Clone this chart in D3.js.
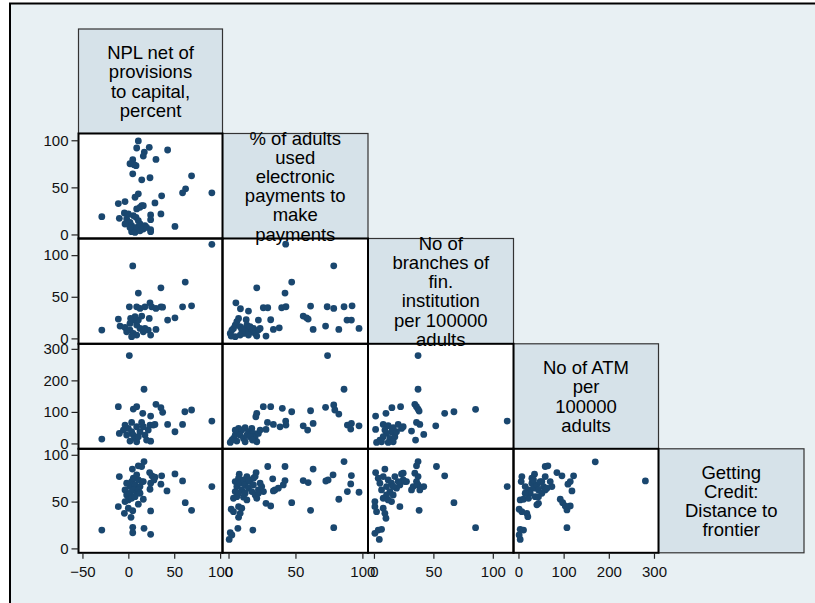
<!DOCTYPE html>
<html><head><meta charset="utf-8">
<script src="https://cdn.jsdelivr.net/npm/d3@7"></script>
<style>html,body{margin:0;padding:0;background:#fff;}svg{display:block;}</style>
</head><body><div id="chart"></div>
<script>
// ---- data ----
const variableLabels = [
  ["NPL net of","provisions","to capital,","percent"],
  ["% of adults","used","electronic","payments to","make","payments"],
  ["No of","branches of","fin.","institution","per 100000","adults"],
  ["No of ATM","per","100000","adults"],
  ["Getting","Credit:","Distance to","frontier"]
];
const xTickValues = [[-50,0,50,100],[0,50,100],[0,50,100],[0,100,200,300]];
const yTickValues = [null,[0,50,100],[0,50,100],[0,100,200,300],[0,50,100]];
const xDomains = [[-54.3,102.6],[-4.5,104.2],[-5,117.4],[-11,310]];
const yDomains = [null,[-4.3,107.2],[-6.5,120],[-17,316],[-4.7,106.4]];

// pairs [x, y] ; panel name = row variable / column variable
const epayVsNpl = [[10.9,99.3],[9.1,91.8],[22.8,92.5],[42.8,89.7],[17.4,87.5],[16.3,83.2],[30.1,79.7],[4.8,79.4],[1.8,75.1],[6.2,74.1],[8.4,73],[4.8,64.4],[14.6,58],[23.6,60.2],[68.9,62.3],[62.4,48.4],[59.1,44.2],[91,44.2],[10.9,43.1],[7.3,39.5],[36.3,41],[-10.9,32.8],[-3.6,34.9],[29,33.5],[14.6,30.6],[9.1,27.1],[12.7,28.8],[16.3,30.6],[-28.9,18.9],[-9.8,17.1],[-4.3,22.8],[35.5,21.8],[24.3,20.7],[24.3,15.7],[50.8,8.5],[24.3,5],[24.3,3],[-1.8,16.4],[1.8,12.8],[3.6,9.3],[5.4,5.7],[3.6,2.9],[9.1,7.5],[12.7,11.1],[16.3,7.5],[18.1,9.3],[0,21.8],[5.4,20],[8.4,18.2],[10.9,14.6],[1.8,7.5],[-3.6,11.1],[7.3,2.1],[12.7,3.9],[16.3,5.7],[19.9,7.5]];
const branchesVsNpl = [[91,113],[4.8,87],[62,67.6],[35.5,60.7],[10.9,54.4],[1.1,37.9],[9.1,37.9],[12.7,36],[18.1,37.9],[23.6,42.7],[25.4,37.9],[30.1,36],[35.5,37.9],[37.3,37.5],[59.1,37.9],[68.9,39.1],[22.8,24],[14.6,26.8],[-10.9,23.2],[42.8,22],[50.8,24.7],[-28.9,10],[30.1,10.8],[24.3,4],[-9,14.8],[-3.6,13.2],[1.8,18],[5.4,22],[9.1,16],[12.7,12],[1.8,10],[5.4,6],[9.1,4],[3.6,2],[16.3,8],[18.1,12],[21.7,10],[-1.8,8],[10.9,22],[7.3,26],[2.5,24]];
const branchesVsEpay = [[42.7,113.2],[78.6,87.2],[47.2,67.6],[21.1,60.7],[42.2,54.4],[5.5,42.7],[8.9,35.6],[14.9,32.8],[26,36.8],[29.3,36.8],[39.7,36.8],[42.9,38],[61.3,38.8],[73.7,38],[78.6,36],[86.3,38],[92.3,39.1],[55.8,26.8],[58.3,24.7],[59.5,23.2],[22.3,22],[31.5,22.4],[13.2,22.4],[88.5,22],[91.8,22],[33.5,10.8],[37.9,12.7],[63.2,10.8],[72.5,14.8],[82.4,10.8],[97.5,12],[28,2.8],[1.3,6],[2.5,10],[3.7,12],[5,16],[6.2,20],[7.5,24],[8.7,14],[9.9,10],[11.2,6],[12.4,12],[13.7,16],[14.9,10],[16.1,14],[17.4,8],[18.6,12],[19.9,6],[21.1,2.8],[22.3,10],[23.6,12],[5,2],[8.7,4],[14.9,4],[2,2.8]];
const atmVsNpl = [[1.1,278.7],[17.1,171.8],[-10.9,116.5],[5.4,109],[9.1,116.5],[30.1,124],[35.5,113.3],[37.4,98.6],[15.7,95.4],[24.3,86.9],[61.6,100.5],[68.9,106],[91,71],[42.8,60.4],[59.1,60.4],[50.8,37],[-28.9,13.7],[-9.8,31.8],[24.3,7.3],[29,60.4],[-3.6,58.2],[0,47.7],[3.6,37.1],[5.4,26.5],[7.3,15.9],[1.8,7.4],[9.1,5.3],[12.7,37.1],[16.3,53],[18.1,26.5],[21.7,42.4],[23.6,58.2],[14.5,66.7],[3.6,66.7],[-1.8,26.5],[-5.4,42.4],[10.9,21.2],[19.9,10.6],[27.2,58.2],[9.1,53]];
const atmVsEpay = [[74,278.7],[86.3,171.8],[26,116.5],[31.5,116.5],[40.2,111.4],[47.2,100.5],[61.3,103.7],[72.5,114.5],[78.6,121.9],[79.4,106],[82.4,93.2],[21.1,95.4],[20.4,84.6],[29.1,66.8],[33.5,60.4],[38.5,52.8],[42.7,71],[42.9,58.2],[28,44.5],[55.8,56],[59.1,42.3],[63.2,63.6],[88.8,58.2],[91.8,63.6],[91.3,45.5],[97.5,56],[1.3,3.2],[3.7,15.9],[5,26.5],[6.2,37.1],[7.5,47.7],[9.9,42.4],[12.4,49.8],[14.9,37.1],[17.4,47.7],[18.6,31.8],[19.9,21.2],[21.1,5.3],[22.3,31.8],[8.7,26.5],[11.2,15.9],[13.7,26.5],[16.1,21.2],[2.5,10.6],[6.2,7.4],[12.4,5.3],[5,42.4],[17.9,10.6],[23.6,42.4]];
const atmVsBranches = [[37.1,278.7],[37.1,171.8],[34.4,124],[35.8,116.5],[37.1,109],[38,102.7],[22.4,116.5],[15.1,113.3],[10.1,95.4],[1.4,86.9],[59.5,95.4],[67.3,100.5],[85.5,108.2],[112.1,71],[52,56],[35.8,66.8],[38.6,60.4],[31.6,39.1],[41.9,28.6],[35,10.6],[1.4,44.5],[7.8,60.4],[12,56.2],[16.2,49.8],[20.4,60.4],[23.2,47.7],[14.8,37.1],[10.6,31.8],[7.8,21.2],[5,10.6],[2.2,3.2],[13.4,15.9],[17.6,21.2],[9.2,42.4],[6.4,5.3],[19,37.1],[24.6,53],[16.2,5.3],[12,3.2]];
const creditVsNpl = [[17.1,92.8],[10.9,88.2],[14.5,87.5],[4.4,84.7],[-9.8,76.7],[23.2,81],[25.7,77.5],[29,76.1],[36.3,77.5],[50.8,79.6],[59.1,72.1],[91,66],[24.3,69.7],[23.6,63.2],[27.9,73.2],[35.5,68.6],[42.1,61.4],[16.3,52.5],[10.9,47.2],[-10.9,44.6],[-4.3,37.5],[0,42.9],[4.8,40.3],[2.9,33.2],[24.3,40],[62,48.9],[68.9,40.7],[-28.9,19.6],[4.8,22.5],[4.8,16.7],[17.1,21.4],[24.3,15],[-3.6,62.5],[-1.8,57.1],[0,51.8],[1.8,66],[3.6,71.4],[5.4,75],[7.3,67.8],[9.1,78.6],[10.9,73.2],[12.7,66],[14.5,71.4],[1.8,58.9],[5.4,62.5],[9.1,58.9],[-1.8,69.6],[3.6,53.6],[7.3,55.3],[10.9,62.5],[-3.6,50],[12.7,58.9],[16.3,71.4]];
const creditVsEpay = [[86.3,92.8],[42.2,87.5],[29.3,87.5],[63.2,84.7],[20.6,81],[19.9,76.7],[8,79.3],[33,74.3],[55.8,72.5],[59.5,70.3],[78.1,78.6],[72.7,72],[74.4,73.2],[91.8,77.8],[91.3,68.9],[88.8,60.7],[97.5,60],[82.4,52.5],[61.3,40.7],[47.2,48.9],[42.2,72.5],[40.9,67.8],[37.2,64.3],[34.7,62.5],[33.5,61.4],[28,48.2],[31.5,45.3],[78.6,22.1],[18.2,19.6],[7,21.4],[1.3,16.7],[0.5,9.6],[2.5,14.3],[2,41.8],[3.7,39.2],[7.5,33.2],[8.7,37.5],[7.5,44.6],[9.9,42.9],[3.7,53.6],[6.2,55.3],[11.2,54.7],[13.7,51.8],[5,71.4],[6.2,66],[7.5,75],[8.7,69.6],[9.9,62.5],[11.2,73.2],[12.4,67.8],[13.7,76.7],[14.9,64.3],[16.1,71.4],[17.4,60.7],[18.6,67.8],[19.9,57.1],[21.1,53.6],[22.3,62.5],[24.8,66],[26.1,60.7],[5,60.7],[7.5,58.9],[12.4,58.9],[14.9,73.2],[18.6,75],[22.3,58.9],[23.6,69.6]];
const creditVsBranches = [[37.1,92.8],[35.8,88.2],[52.6,87.5],[59.5,77.5],[112.1,66],[67.3,48.9],[85.5,22.1],[38,40.7],[21.8,44.6],[41.9,66],[34.4,80.4],[37.1,76.7],[35.8,71.4],[33,66],[37.1,67.8],[38.6,62.5],[31.6,62.5],[23.2,79.6],[24.6,73.2],[21.8,67.8],[26,71.4],[1.4,81],[9.2,84.7],[3.6,75],[0.8,50],[0.8,44.6],[2.2,39.2],[7.8,42.9],[9.2,37.5],[10.1,32.2],[0.8,16.1],[3.6,19.6],[6.4,20.4],[4.5,9.6],[5,69.6],[7.8,76.7],[10.6,66],[12,73.2],[13.4,60.7],[14.8,69.6],[16.2,57.1],[17.6,76.7],[19,64.3],[20.4,71.4],[10.6,57.1],[6.4,62.5],[14.8,50],[24.6,80.4],[27.4,71.4],[7.8,53.6],[16.2,66],[12,51.8]];
const creditVsAtm = [[170,92.5],[281,72.1],[59.2,87.5],[65.1,88.2],[85.1,81],[96.2,77.5],[122,77.5],[114.6,71.4],[109.5,68.6],[118.4,61.4],[35.5,79.3],[29.7,75],[7.5,76.7],[6,71.4],[59.2,76.7],[51.8,71.4],[55.4,66],[74,66],[70.3,71.4],[92.5,52.5],[97.9,48.9],[107.3,41.1],[114.6,45.3],[103.6,45.3],[107.3,22.1],[44.3,48.2],[40.7,46.5],[3.8,51.8],[11.2,52.5],[1.5,41.8],[7.5,39.2],[18.5,37.5],[20.7,33.9],[3.8,20.4],[11.2,19.6],[1.5,14.3],[3.8,9.6],[14.9,66],[22.2,62.5],[26,58.9],[29.7,69.6],[33.3,64.3],[37,55.3],[40.7,67.8],[44.3,62.5],[48,71.4],[51.8,58.9],[59.2,62.5],[22.2,53.6],[14.9,58.9],[33.3,73.2],[44.3,55.3],[62.9,64.3]];

const panels = [
  {row:1,col:0,data:epayVsNpl},
  {row:2,col:0,data:branchesVsNpl},{row:2,col:1,data:branchesVsEpay},
  {row:3,col:0,data:atmVsNpl},{row:3,col:1,data:atmVsEpay},{row:3,col:2,data:atmVsBranches},
  {row:4,col:0,data:creditVsNpl},{row:4,col:1,data:creditVsEpay},{row:4,col:2,data:creditVsBranches},{row:4,col:3,data:creditVsAtm}
];

// ---- layout ----
const W = 815, H = 603;
const colEdges = [78.5, 222.5, 368, 513.5, 658.5, 804];
const rowEdges = [29, 133.5, 238.5, 343.8, 448.8, 552.8];
const FONT = "'Liberation Sans', Arial, sans-serif";
const BG = "#e8f0f3", BOX = "#d6e2e9", DOT = "#1a476f";

const svg = d3.select("#chart").append("svg").attr("width", W).attr("height", H);
svg.append("rect").attr("x",0).attr("y",0).attr("width",W).attr("height",H).attr("fill","#fff");
svg.append("rect").attr("x",10).attr("y",3.5).attr("width",W+20).attr("height",H+20)
  .attr("fill",BG).attr("stroke","#000").attr("stroke-width",2);

const xs = xDomains.map((d,j)=>d3.scaleLinear().domain(d).range([colEdges[j], colEdges[j+1]]));
const ys = yDomains.map((d,i)=>d ? d3.scaleLinear().domain(d).range([rowEdges[i+1], rowEdges[i]]) : null);

// label boxes
for (let i=0;i<5;i++){
  svg.append("rect").attr("x",colEdges[i]).attr("y",rowEdges[i])
    .attr("width",colEdges[i+1]-colEdges[i]).attr("height",rowEdges[i+1]-rowEdges[i])
    .attr("fill",BOX).attr("stroke","#333").attr("stroke-width",1.2);
}
// plot cells
const cellG = svg.append("g");
panels.forEach(p=>{
  const x = xs[p.col], y = ys[p.row];
  const g = cellG.append("g");
  g.append("rect").attr("x",colEdges[p.col]).attr("y",rowEdges[p.row])
    .attr("width",colEdges[p.col+1]-colEdges[p.col]).attr("height",rowEdges[p.row+1]-rowEdges[p.row])
    .attr("fill","#fff");
  g.selectAll("circle").data(p.data).join("circle")
    .attr("cx",d=>x(d[0])).attr("cy",d=>y(d[1])).attr("r",3.4).attr("fill",DOT);
});
panels.forEach(p=>{
  cellG.append("rect").attr("x",colEdges[p.col]).attr("y",rowEdges[p.row])
    .attr("width",colEdges[p.col+1]-colEdges[p.col]).attr("height",rowEdges[p.row+1]-rowEdges[p.row])
    .attr("fill","none").attr("stroke","#000").attr("stroke-width",2);
});

// axes
function styleAxis(g){
  g.select(".domain").remove();
  g.selectAll(".tick line").attr("stroke","#222").attr("stroke-width",1.2);
  g.selectAll(".tick text").attr("fill","#111").style("font-family",FONT).style("font-size","15px");
}
for (let i=1;i<5;i++){
  svg.append("g").attr("transform",`translate(${colEdges[0]},0)`)
    .call(d3.axisLeft(ys[i]).tickValues(yTickValues[i]).tickFormat(d3.format("d")).tickSize(7).tickPadding(3))
    .call(styleAxis);
}
for (let j=0;j<4;j++){
  svg.append("g").attr("transform",`translate(0,${rowEdges[5]})`)
    .call(d3.axisBottom(xs[j]).tickValues(xTickValues[j]).tickFormat(d3.format("d")).tickSize(6).tickPadding(8))
    .call(styleAxis);
}

// label texts (drawn last)
const LH = 19.2;
variableLabels.forEach((lines,i)=>{
  const cx = (colEdges[i]+colEdges[i+1])/2, cy = (rowEdges[i]+rowEdges[i+1])/2;
  const t = svg.append("text").attr("text-anchor","middle")
    .style("font-family",FONT).style("font-size","18.5px").attr("fill","#000");
  lines.forEach((s,k)=>{
    t.append("tspan").attr("x",cx).attr("y",cy + (k-(lines.length-1)/2)*LH).attr("dy","0.36em").text(s);
  });
});
</script></body></html>
